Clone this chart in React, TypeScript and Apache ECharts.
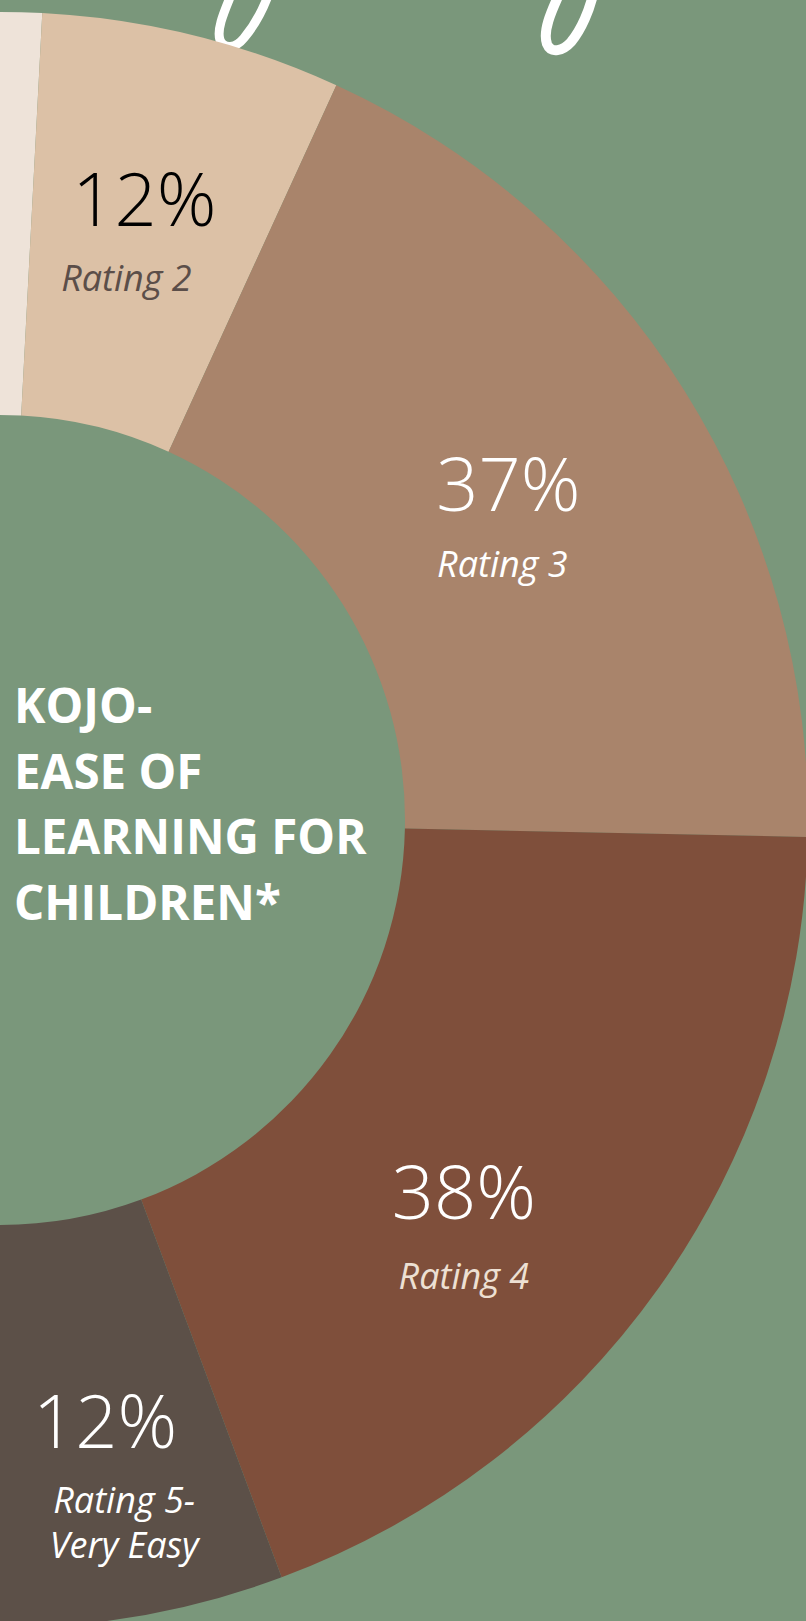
import React, { useEffect, useRef } from "react";
import * as echarts from "echarts";

// ---- data ----
const categories = ["Rating 1", "Rating 2", "Rating 3", "Rating 4", "Rating 5-\nVery Easy"];
const values = [2, 12, 37, 38, 12];
const sliceColors = ["#EEE3D9", "#DCC1A6", "#A9846B", "#7F4F3B", "#5C5048"];
const valueColors = ["#000000", "#000000", "#FFFFFF", "#FFFFFF", "#FFFFFF"];
const nameColors = ["#5B4E49", "#5B4E49", "#FFFFFF", "#EDE0D3", "#FFFFFF"];
const titleLines = ["KOJO-", "EASE OF", "LEARNING FOR", "CHILDREN*"];

// label nudges (padding) per slice: [top, right, bottom, left]
const labelPads = [
  [0, 0, 0, 0],
  [0, 20, 15, 0],
  [20, 22, 0, 0],
  [82, 66, 0, 0],
  [88, 0, 0, 26],
];
// per-line horizontal nudges
const valuePads = [
  [0, 0, 0, 0],
  [0, 0, 0, 18],
  [0, 0, 0, 6],
  [0, 0, 0, 0],
  [0, 19, 0, 0],
];
const namePads = [
  [0, 0, 0, 0],
  [0, 18, 0, 0],
  [0, 6, 0, 0],
  [0, 0, 0, 0],
  [0, 0, 0, 19],
];
const valueLineHeights = [114, 114, 114, 122, 114];
const nameLineHeights = [47, 47, 47, 47, 45];

const BG = "#7A977B";

const loop1 =
  "M 233 -10 C 226 8 216 28 220 40 C 224 50 236 48 244 38 C 254 26 264 8 270 -10";
const loop2 =
  "M 561 -10 C 553 8 542 30 547 44 C 551 54 563 51 571 42 C 581 30 590 10 594 -10";

export default function App() {
  const ref = useRef<HTMLDivElement>(null);
  useEffect(() => {
    document.body.style.margin = "0";
    document.body.style.overflow = "hidden";
    document.body.style.background = BG;
    try {
      echarts.graphic.registerShape("loopA", echarts.graphic.extendPath(loop1, {}));
      echarts.graphic.registerShape("loopB", echarts.graphic.extendPath(loop2, {}));
    } catch (e) {}
    const chart = echarts.init(ref.current!, null, { renderer: "svg" });
    const total = values.reduce((a, b) => a + b, 0);
    const start = 90.6;
    chart.setOption({
      animation: false,
      backgroundColor: BG,
      series: [
        {
          type: "pie",
          silent: true,
          center: [0, 820],
          radius: [405, 808],
          startAngle: start,
          endAngle: start - total * 1.8,
          clockwise: true,
          labelLine: { show: false },
          label: { show: true, position: "inside" },
          data: values.map((v, i) => ({
            value: v,
            name: categories[i],
            itemStyle: { color: sliceColors[i] },
            label: {
              show: i > 0,
              position: "inside",
              padding: labelPads[i],
              formatter: (p: any) =>
                `{v|${p.value}%}\n` +
                String(p.name)
                  .split("\n")
                  .map((s: string) => `{n|${s}}`)
                  .join("\n"),
              rich: {
                v: {
                  fontFamily: "Open Sans",
                  fontWeight: 300,
                  fontSize: 74,
                  lineHeight: valueLineHeights[i],
                  padding: valuePads[i],
                  color: valueColors[i],
                },
                n: {
                  fontFamily: "Open Sans",
                  fontStyle: "italic",
                  fontSize: 36,
                  lineHeight: nameLineHeights[i],
                  padding: namePads[i],
                  color: nameColors[i],
                },
              },
            },
          })),
        },
      ],
      graphic: [
        {
          type: "text",
          x: 14,
          y: 803,
          silent: true,
          style: {
            text: titleLines.join("\n"),
            fill: "#FFFFFF",
            fontFamily: "Open Sans",
            fontWeight: "bold",
            fontSize: 47.5,
            lineHeight: 65.5,
            align: "left",
            verticalAlign: "middle",
          },
        },
        {
          type: "loopA",
          x: 0,
          y: 0,
          silent: true,
          style: { fill: "none", stroke: "#FFFFFF", lineWidth: 9, lineCap: "round" },
        },
        {
          type: "loopB",
          x: 0,
          y: 0,
          silent: true,
          style: { fill: "none", stroke: "#FFFFFF", lineWidth: 10, lineCap: "round" },
        },
      ],
    });
    return () => chart.dispose();
  }, []);
  return <div ref={ref} style={{ width: 806, height: 1621 }} />;
}
